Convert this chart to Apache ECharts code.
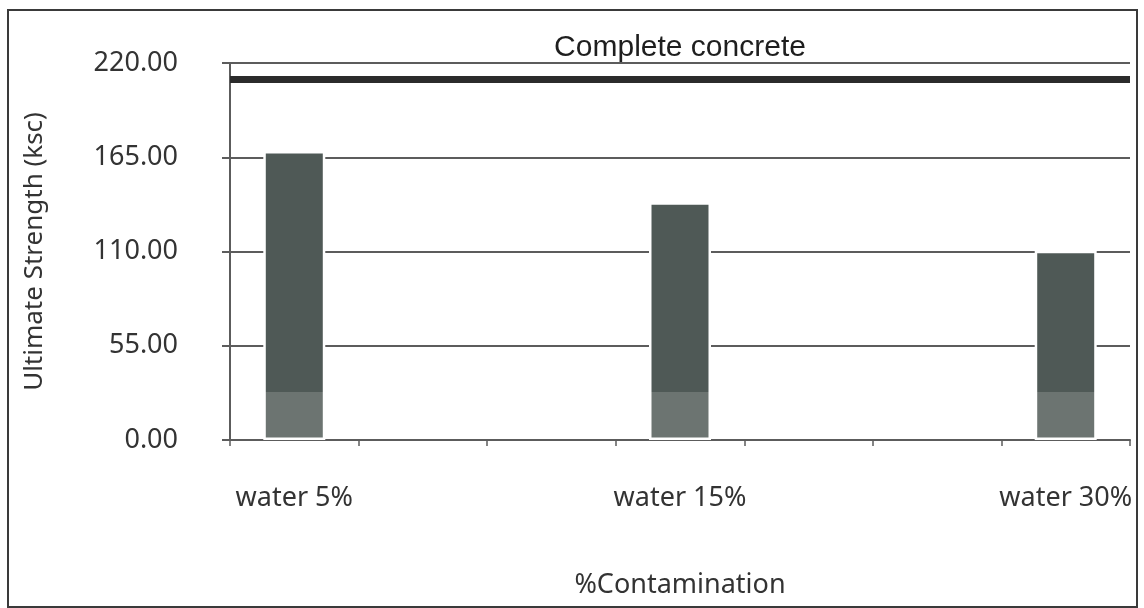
<!DOCTYPE html>
<html>
<head>
<meta charset="utf-8">
<script src="https://cdn.jsdelivr.net/npm/echarts@6/dist/echarts.min.js"></script>
<style>
  html, body { margin: 0; padding: 0; background: #ffffff; }
  #chart { width: 1144px; height: 608px; }
</style>
</head>
<body>
<div id="chart"></div>
<script>
// Ultimate strength of contaminated concrete samples
const categories = ['water 5%', 'water 15%', 'water 30%'];
const strength = [168.7, 138.8, 110.4];          // ksc
const completeConcrete = 210.5;                   // reference strength, ksc
const yMin = 0, yMax = 220, yStep = 55;

// Lower tone band drawn at the foot of each bar (ksc)
const baseBand = 28;

// Each category sits in the middle of three tick slots; bars use the first slot of each group
const SLOTS_PER_GROUP = 3;
const slotLabels = [];
const slotValues = [];
categories.forEach((c, i) => {
  slotLabels.push(c);
  slotValues.push(strength[i]);
  if (i < categories.length - 1) {
    for (let k = 1; k < SLOTS_PER_GROUP; k++) { slotLabels.push(''); slotValues.push('-'); }
  }
});

const darkTone = '#4f5956';
const lightTone = '#6c7471';
const lineGrey = '#5c5c5c';
const textFont = 'Noto Sans';

function barGradient(v) {
  const cut = 1 - baseBand / v;
  return {
    type: 'linear', x: 0, y: 0, x2: 0, y2: 1,
    colorStops: [
      { offset: 0, color: darkTone },
      { offset: cut, color: darkTone },
      { offset: cut, color: lightTone },
      { offset: 1, color: lightTone }
    ]
  };
}

const chart = echarts.init(document.getElementById('chart'), null, { renderer: 'canvas' });

chart.setOption({
  backgroundColor: '#ffffff',
  animation: false,
  textStyle: { fontFamily: textFont },
  grid: { left: 230, right: 14, top: 63, bottom: 168 },
  graphic: [{
    type: 'rect',
    shape: { x: 8, y: 10, width: 1129, height: 597 },
    style: { fill: 'none', stroke: '#3a3a3a', lineWidth: 2 },
    silent: true
  }],
  xAxis: {
    type: 'category',
    data: slotLabels,
    boundaryGap: true,
    name: '%Contamination',
    nameLocation: 'middle',
    nameGap: 132,
    nameTextStyle: { fontFamily: textFont, fontSize: 27, color: '#333' },
    axisLine: { lineStyle: { color: lineGrey, width: 2 } },
    axisTick: { show: true, length: 6, interval: 0, lineStyle: { color: lineGrey, width: 1.5 } },
    axisLabel: { interval: 0, margin: 45, fontFamily: textFont, fontSize: 27, color: '#333' },
    splitLine: { show: false }
  },
  yAxis: {
    type: 'value',
    min: yMin, max: yMax, interval: yStep,
    name: 'Ultimate Strength (ksc)',
    nameLocation: 'middle',
    nameGap: 182,
    nameTextStyle: { fontFamily: textFont, fontSize: 26, color: '#333' },
    axisLine: { show: true, lineStyle: { color: lineGrey, width: 2 } },
    axisTick: { show: true, length: 8, lineStyle: { color: lineGrey, width: 2 } },
    axisLabel: {
      margin: 52, fontFamily: textFont, fontSize: 27, color: '#333',
      formatter: v => v.toFixed(2)
    },
    splitLine: { show: true, lineStyle: { color: lineGrey, width: 2 } }
  },
  series: [{
    type: 'bar',
    barWidth: 62,
    data: slotValues.map(v => v === '-' ? v : {
      value: v,
      itemStyle: { color: barGradient(v) }
    }),
    itemStyle: { borderColor: '#ffffff', borderWidth: 2.5 },
    markLine: {
      silent: true,
      symbol: 'none',
      lineStyle: { color: '#2b2b2b', width: 7, type: 'solid' },
      label: {
        show: true,
        position: 'middle',
        formatter: 'Complete concrete',
        fontFamily: 'Liberation Sans',
        fontSize: 30,
        color: '#1e1e1e',
        distance: 17
      },
      data: [{ yAxis: completeConcrete }]
    }
  }]
});
</script>
</body>
</html>
